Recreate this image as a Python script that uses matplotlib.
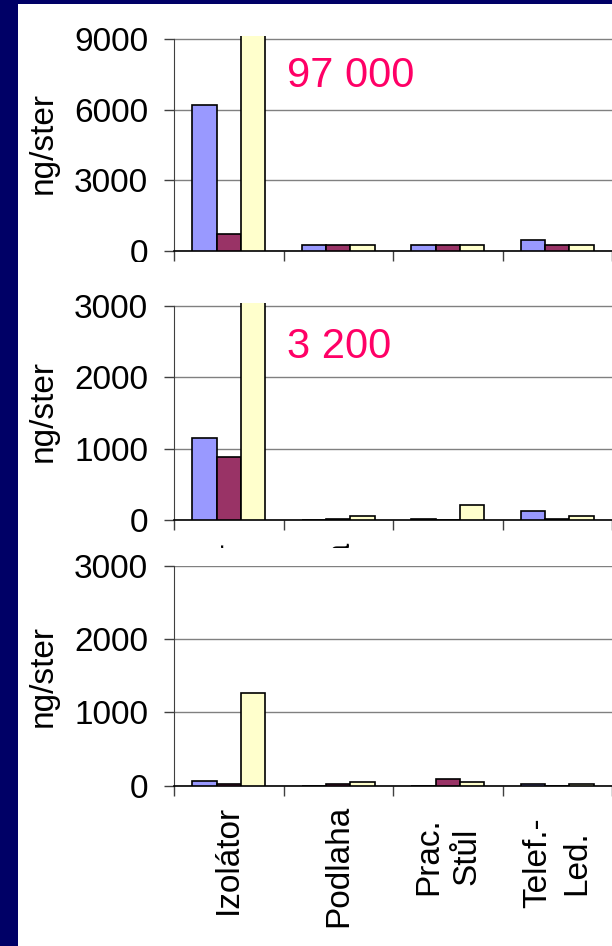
import numpy as np
import matplotlib
matplotlib.use("Agg")
import matplotlib.pyplot as plt
from matplotlib.patches import Rectangle
from matplotlib.transforms import ScaledTranslation

plt.rcParams['font.family'] = ['Liberation Sans', 'DejaVu Sans']

categories = ["Izolátor", "Podlaha", "Prac.\nStůl", "Telef.-\nLed."]
series_colors = ["#9999FF", "#993366", "#FFFFCC"]

# panel 1 (top)
p1_s1 = [6200, 250, 250, 450]
p1_s2 = [700, 250, 250, 250]
p1_s3 = [97000, 250, 250, 250]
p1_note = "97 000"
p1_ticks = [0, 3000, 6000, 9000]

# panel 2 (middle)
p2_s1 = [1150, 0, 15, 130]
p2_s2 = [890, 20, 0, 20]
p2_s3 = [3200, 60, 210, 60]
p2_note = "3 200"
p2_ticks = [0, 1000, 2000, 3000]

# panel 3 (bottom)
p3_s1 = [70, 0, 0, 20]
p3_s2 = [20, 20, 95, 0]
p3_s3 = [1270, 50, 45, 20]
p3_ticks = [0, 1000, 2000, 3000]

W, H = 612, 946
fig = plt.figure(figsize=(W / 100, H / 100), dpi=100)
fig.patch.set_facecolor("white")

def fx(px):
    return px / W

def fy(py):
    return 1 - py / H

left_px, right_px = 174, 612

panels = [
    dict(top=36, bottom=250.7, ymax_tick=9000, series=[p1_s1, p1_s2, p1_s3], ticks=p1_ticks,
         note=p1_note, note_y=76, show_labels=False),
    dict(top=303, bottom=520, ymax_tick=3000, series=[p2_s1, p2_s2, p2_s3], ticks=p2_ticks,
         note=p2_note, note_y=347, show_labels=True),
    dict(top=566, bottom=785.7, ymax_tick=3000, series=[p3_s1, p3_s2, p3_s3], ticks=p3_ticks,
         note=None, note_y=None, show_labels=True),
]

cover_tops = [None, 262, 548]
fs = 24
bw = 2 / 9
x = np.arange(len(categories))

for i, p in enumerate(panels):
    if cover_tops[i] is not None:
        cov = Rectangle((fx(18), 0), 1, fy(cover_tops[i]), transform=fig.transFigure,
                        facecolor="white", edgecolor="none", zorder=2 * i + 0.5)
        fig.patches.append(cov)
    ax = fig.add_axes([fx(left_px), fy(p["bottom"]), fx(right_px - left_px),
                       (p["bottom"] - p["top"]) / H])
    ax.set_zorder(2 * i + 1)
    hpx = p["bottom"] - p["top"]
    tick_span_px = hpx if i == 2 else (p["bottom"] - (p["top"] + (3.3 if i == 0 else 3)))
    ymax = p["ymax_tick"] * hpx / tick_span_px
    for k, (vals, col) in enumerate(zip(p["series"], series_colors)):
        ax.bar(x + (k - 1) * bw, vals, width=bw, color=col, edgecolor="black",
               linewidth=1.2, zorder=3)
    ax.set_xlim(-0.5, len(categories) - 0.5)
    ax.set_ylim(0, ymax)
    ax.set_yticks(p["ticks"])
    ax.set_yticklabels([str(t) for t in p["ticks"]], fontsize=fs)
    ax.yaxis.grid(True, color="#808080", linewidth=1.0, zorder=0)
    ax.set_axisbelow(True)
    ax.spines["top"].set_visible(False)
    ax.spines["right"].set_visible(False)
    ax.spines["left"].set_bounds(0, p["ymax_tick"])
    ax.spines["left"].set_color("#404040")
    ax.spines["bottom"].set_color("black")
    ax.spines["bottom"].set_linewidth(1.2)
    ax.set_xticks(np.arange(len(categories) + 1) - 0.5)
    ax.set_xticklabels([])
    ax.tick_params(axis="x", which="major", direction="out", length=7.5, width=1, color="#404040")
    ax.tick_params(axis="y", direction="out", length=7.5, width=1, pad=11, color="#404040")
    ax.set_xticks(x, minor=True)
    ax.tick_params(axis="x", which="minor", length=0, pad=14)
    if p["show_labels"]:
        ax.set_xticklabels(categories, minor=True, fontsize=fs, rotation=90,
                           multialignment="center", linespacing=1.3)
        for lbl, txt in zip(ax.xaxis.get_minorticklabels(), categories):
            if "\n" in txt:
                lbl.set_transform(lbl.get_transform() +
                                  ScaledTranslation(0, -12 / 100, fig.dpi_scale_trans))
    else:
        ax.set_xticklabels([], minor=True)
    ax.set_ylabel("ng/ster", fontsize=fs)
    ax.yaxis.set_label_coords((59 - left_px) / (right_px - left_px), 0.5)
    if p["note"]:
        ax.text((287 - left_px) / (right_px - left_px), 1 - (p["note_y"] - p["top"]) / hpx,
                p["note"], transform=ax.transAxes, color="#FF0066", fontsize=30,
                ha="left", va="center", zorder=5)

# navy slide border
fig.patches.append(Rectangle((0, 0), fx(18), 1, transform=fig.transFigure,
                             facecolor="#000066", edgecolor="none", zorder=20))
fig.patches.append(Rectangle((0, fy(4)), 1, 4 / H, transform=fig.transFigure,
                             facecolor="#000066", edgecolor="none", zorder=20))

fig.savefig("out.png", dpi=100)
